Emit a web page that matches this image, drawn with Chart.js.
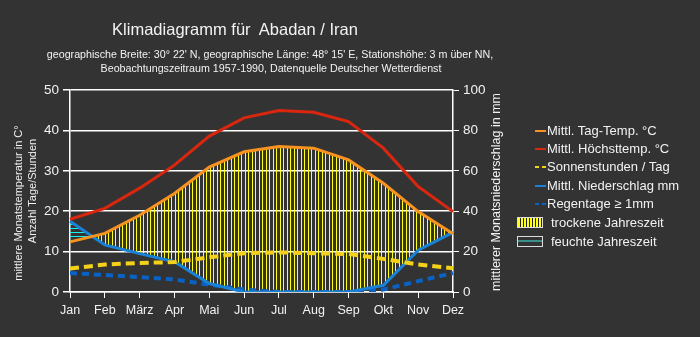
<!DOCTYPE html>
<html>
<head>
<meta charset="utf-8">
<script src="https://cdn.jsdelivr.net/npm/chart.js@4.4.1/dist/chart.umd.min.js"></script>
<style>
    body { margin: 0; background: #333; font-family: "Liberation Sans", Arial, sans-serif; color: #f2f2f2; }
    #wrap { position: relative; width: 700px; height: 337px; overflow: hidden; background: #333; }
    #chart { position: absolute; left: 0; top: 0; }
    .txt { position: absolute; white-space: nowrap; }
    .ctr { transform: translateX(-50%); }
    .rot { transform: translate(-50%, -50%) rotate(-90deg); }
    .leg { position: absolute; left: 547px; font-size: 13px; line-height: 18px; white-space: nowrap; }
    .sample { position: absolute; height: 2px; }
    .box { position: absolute; left: 517px; width: 24px; height: 9px; border: 1px solid #ddd; }
</style>
</head>
<body>
<div id="wrap">
    <canvas id="chart" width="700" height="337"></canvas>

    <div class="txt ctr" style="left:235px; top:19px; font-size:16.5px; line-height:20px;">Klimadiagramm für&nbsp; Abadan / Iran</div>
    <div class="txt ctr" style="left:270px; top:46px; font-size:10.7px; line-height:16px;">geographische Breite: 30° 22' N, geographische Länge: 48° 15' E, Stationshöhe: 3 m über NN,</div>
    <div class="txt ctr" style="left:271px; top:60px; font-size:10.7px; line-height:16px;">Beobachtungszeitraum 1957-1990, Datenquelle Deutscher Wetterdienst</div>

    <div class="txt rot" style="left:18px; top:203px; font-size:11px;">mittlere Monatstemperatur in C°</div>
    <div class="txt rot" style="left:32px; top:191px; font-size:11px;">Anzahl Tage/Stunden</div>
    <div class="txt rot" style="left:496px; top:192px; font-size:12.5px;">mittlerer Monatsniederschlag in mm</div>

    <div id="legend"></div>
</div>

<script>
const MONTHS = ['Jan', 'Feb', 'März', 'Apr', 'Mai', 'Jun', 'Jul', 'Aug', 'Sep', 'Okt', 'Nov', 'Dez'];
const TAG_TEMP = [12.4, 14.5, 19.0, 24.4, 30.9, 34.7, 36.0, 35.6, 32.7, 26.9, 19.9, 14.4];
const MAX_TEMP = [18.0, 20.7, 25.7, 31.4, 38.6, 43.1, 44.9, 44.5, 42.2, 35.6, 26.1, 19.9];
const SONNE = [5.8, 6.8, 7.2, 7.4, 8.6, 9.6, 9.8, 9.6, 9.4, 8.2, 6.8, 5.9];
const NIEDERSCHLAG = [35, 23.3, 19, 15, 4.2, 0, 0, 0, 0, 3.3, 20.7, 29.5];
const REGENTAGE = [4.7, 4.2, 3.7, 3.1, 1.8, 0.6, 0, 0, 0, 0.6, 2.7, 4.7];
const TEMP_TICKS = [0, 10, 20, 30, 40, 50];

const LEGEND_ITEMS = [
    { label: 'Mittl. Tag-Temp. °C', color: '#f7931e', dash: false },
    { label: 'Mittl. Höchsttemp. °C', color: '#d9260f', dash: false },
    { label: 'Sonnenstunden / Tag', color: '#f5d21a', dash: true },
    { label: 'Mittl. Niederschlag mm', color: '#1a82d6', dash: false },
    { label: 'Regentage ≥ 1mm', color: '#0a62c4', dash: true }
];

// hatch patterns for dry (vertical yellow) and wet (horizontal cyan) season
function makePattern(w, h, draw) {
    const c = document.createElement('canvas');
    c.width = w;
    c.height = h;
    draw(c.getContext('2d'));
    return c.getContext('2d').createPattern(c, 'repeat');
}
const ctx = document.getElementById('chart').getContext('2d');
const dryPattern = makePattern(7, 1, g => {
    g.fillStyle = '#ffff1a';
    g.fillRect(0, 0, 1, 1);
    g.fillRect(3, 0, 1, 1);
});
const wetPattern = makePattern(1, 4, g => {
    g.fillStyle = '#18f0f0';
    g.fillRect(0, 0, 1, 1);
});

// legend
const legend = document.getElementById('legend');
LEGEND_ITEMS.forEach((item, i) => {
    const y = 131 + i * 18.2;
    if (item.dash) {
        legend.innerHTML += `<div class="sample" style="left:535px; width:4px; top:${y - 1}px; background:${item.color};"></div>`;
        legend.innerHTML += `<div class="sample" style="left:542px; width:4px; top:${y - 1}px; background:${item.color};"></div>`;
    } else {
        legend.innerHTML += `<div class="sample" style="left:535px; width:11px; top:${y - 1}px; background:${item.color};"></div>`;
    }
    legend.innerHTML += `<div class="leg" style="top:${y - 9}px;">${item.label}</div>`;
});
legend.innerHTML += `
    <div class="box" style="top:217px; background: repeating-linear-gradient(90deg, #ffff1a 0 2px, #222 2px 3px);"></div>
    <div class="leg" style="left:551px; top:214px;">trockene Jahreszeit</div>
    <div class="box" style="top:236px; background: linear-gradient(#333 0 3px, #3a8f8a 3px 5px, #333 5px);"></div>
    <div class="leg" style="left:551px; top:233px;">feuchte Jahreszeit</div>
`;

Chart.defaults.font.family = '"Liberation Sans", Arial, sans-serif';
Chart.defaults.font.size = 12;
Chart.defaults.color = '#f2f2f2';

new Chart(ctx, {
    type: 'line',
    data: {
        labels: MONTHS,
        datasets: [
            {
                label: 'Mittl. Höchsttemp. °C', data: MAX_TEMP, yAxisID: 'y',
                borderColor: '#d9260f', borderWidth: 3, pointRadius: 0, fill: false
            },
            {
                label: 'Mittl. Tag-Temp. °C', data: TAG_TEMP, yAxisID: 'y',
                borderColor: '#f7931e', borderWidth: 3, pointRadius: 0,
                fill: { target: 3, above: dryPattern, below: wetPattern }
            },
            {
                label: 'Sonnenstunden / Tag', data: SONNE, yAxisID: 'y',
                borderColor: '#f5d21a', borderWidth: 4, borderDash: [9, 5], pointRadius: 0, fill: false
            },
            {
                label: 'Mittl. Niederschlag mm', data: NIEDERSCHLAG, yAxisID: 'y1',
                borderColor: '#1a82d6', borderWidth: 3, pointRadius: 0, fill: false
            },
            {
                label: 'Regentage ≥ 1mm', data: REGENTAGE, yAxisID: 'y',
                borderColor: '#0a62c4', borderWidth: 4, borderDash: [7, 5], pointRadius: 0, fill: false
            }
        ]
    },
    options: {
        responsive: false,
        animation: false,
        layout: { padding: { left: 0, top: 90, right: 187, bottom: 15 } },
        plugins: {
            legend: { display: false },
            tooltip: { enabled: false },
            filler: { drawTime: 'beforeDatasetsDraw' }
        },
        scales: {
            x: {
                offset: false,
                afterFit: scale => { scale.height = 30; },
                grid: { display: true, drawOnChartArea: false, color: '#fff', tickLength: 6 },
                border: { color: '#fff', width: 1.5 },
                ticks: { color: '#f2f2f2', padding: 5, maxRotation: 0, autoSkip: false, font: { size: 12.5 } }
            },
            y: {
                position: 'left',
                min: 0, max: 50,
                afterFit: scale => { scale.width = 70; },
                afterBuildTicks: scale => { scale.ticks = TEMP_TICKS.map(v => ({ value: v })); },
                grid: { color: '#fff', lineWidth: 1.5, tickLength: 7 },
                border: { color: '#fff', width: 1.5 },
                ticks: { color: '#f2f2f2', padding: 4, font: { size: 13.5 } }
            },
            y1: {
                position: 'right',
                min: 0, max: 100,
                afterFit: scale => { scale.width = 60; },
                afterBuildTicks: scale => { scale.ticks = TEMP_TICKS.map(v => ({ value: v * 2 })); },
                grid: { drawOnChartArea: false, color: '#fff', tickLength: 6 },
                border: { color: '#fff', width: 1.5 },
                ticks: { color: '#f2f2f2', padding: 4, font: { size: 13.5 } }
            }
        }
    }
});
</script>
</body>
</html>
